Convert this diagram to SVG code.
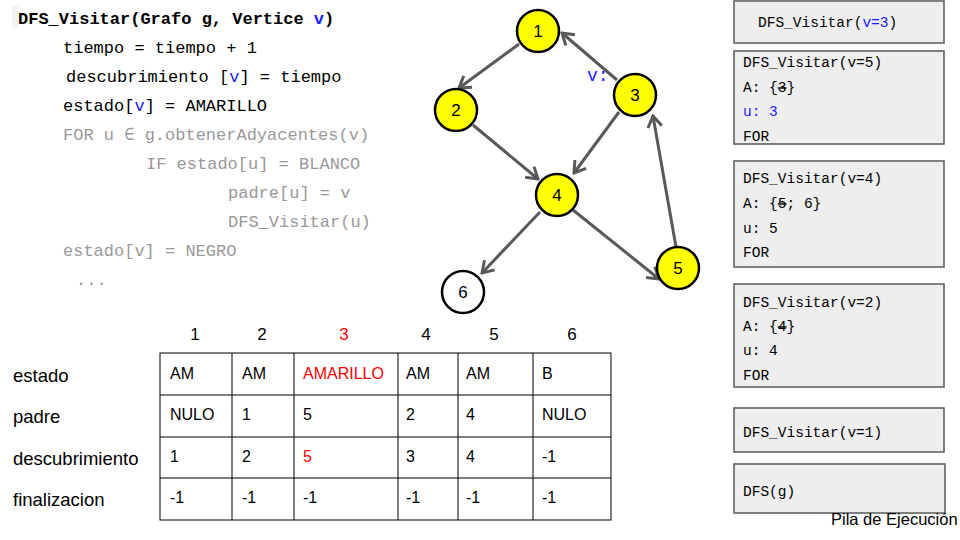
<svg xmlns="http://www.w3.org/2000/svg" width="960" height="540" viewBox="0 0 960 540">
<defs>
<style>
.code{font-family:"Liberation Mono","DejaVu Sans Mono",monospace;font-size:17px;fill:#000}
.bold{font-weight:bold}
.node circle{fill:#ffff00;stroke:#000;stroke-width:2.5}
.node.white circle{fill:#fff}
.node text{font-family:"Liberation Sans",Arial,sans-serif;font-size:17px;text-anchor:middle;fill:#000}
.edge{stroke:#595959;stroke-width:3;fill:none;marker-end:url(#arr)}
.stack rect{fill:#eeeeee;stroke:#595959;stroke-width:1.5}
.stk{font-family:"Liberation Mono","DejaVu Sans Mono",monospace;font-size:14.5px;fill:#000}
.tbl{font-family:"Liberation Sans",Arial,sans-serif;font-size:16px;fill:#000}
.hdr{font-family:"Liberation Sans",Arial,sans-serif;font-size:17px;fill:#000;text-anchor:middle}
.lbl{font-family:"Liberation Sans",Arial,sans-serif;font-size:18.5px;fill:#000}
.ttl{font-family:"Liberation Sans",Arial,sans-serif;font-size:16.5px;fill:#000}
.grid{stroke:#000;stroke-width:1;fill:none}
.strike{text-decoration:line-through}
text.gray,tspan.gray{fill:#999999}
text.blue,tspan.blue{fill:#1a1aff}
text.red,tspan.red{fill:#ff0000}
</style>
<marker id="arr" markerUnits="userSpaceOnUse" viewBox="-14 -9 16 18" markerWidth="16" markerHeight="18" refX="0" refY="0" orient="auto">
<path d="M-11,-7 L0,0 L-11,7" fill="none" stroke="#595959" stroke-width="3"/>
</marker>
</defs>
<rect width="960" height="540" fill="#ffffff"/>

<g id="code">
<rect x="12" y="6" width="6" height="22" fill="#f3f3f3"/>
<text class="code bold" x="18" y="24">DFS_Visitar(Grafo g, Vertice <tspan class="blue">v</tspan>)</text>
<text class="code" x="63" y="53">tiempo = tiempo + 1</text>
<text class="code" x="66" y="82">descubrimiento [<tspan class="blue">v</tspan>] = tiempo</text>
<text class="code" x="63" y="111">estado[<tspan class="blue">v</tspan>] = AMARILLO</text>
<text class="code gray" x="63" y="140">FOR u ∈ g.obtenerAdyacentes(v)</text>
<text class="code gray" x="146" y="169">IF estado[u] = BLANCO</text>
<text class="code gray" x="228" y="198">padre[u] = v</text>
<text class="code gray" x="228" y="227">DFS_Visitar(u)</text>
<text class="code gray" x="63" y="256">estado[v] = NEGRO</text>
<text class="code gray" x="76" y="285">...</text>
</g>

<g id="connectors">
<line class="edge" x1="519" y1="44" x2="459" y2="88"/>
<line class="edge" x1="617" y1="80" x2="562" y2="33"/>
<line class="edge" x1="473" y1="125" x2="538" y2="179"/>
<line class="edge" x1="619" y1="112" x2="574" y2="173"/>
<line class="edge" x1="540" y1="212" x2="482" y2="273"/>
<line class="edge" x1="573" y1="210" x2="659" y2="279"/>
<line class="edge" x1="676" y1="247" x2="653" y2="116"/>
</g>

<g id="node1" class="node"><circle cx="538" cy="31" r="21"/><text x="538" y="37">1</text></g>
<g id="node2" class="node"><circle cx="456" cy="110" r="21"/><text x="456" y="116">2</text></g>
<g id="node3" class="node"><circle cx="635" cy="95" r="21"/><text x="635" y="101">3</text></g>
<g id="node4" class="node"><circle cx="557" cy="195" r="21"/><text x="557" y="201">4</text></g>
<g id="node5" class="node"><circle cx="678" cy="268" r="21"/><text x="678" y="274">5</text></g>
<g id="node6" class="node white"><circle cx="463" cy="292" r="21"/><text x="463" y="298">6</text></g>
<text id="vlabel" x="587" y="81" font-family="Liberation Mono, DejaVu Sans Mono, monospace" font-size="18" fill="#1a1aff">v:</text>

<g id="stack" class="stack">
<g id="frame-v3"><rect x="734" y="1" width="210" height="42"/>
<text class="stk" x="758" y="27">DFS_Visitar(<tspan class="blue">v=3</tspan>)</text></g>
<g id="frame-v5"><rect x="734" y="51" width="210" height="93"/>
<text class="stk" x="743" y="67">DFS_Visitar(v=5)</text>
<text class="stk" x="743" y="92">A: {<tspan class="strike">3</tspan>}</text>
<text class="stk blue" x="743" y="116">u: 3</text>
<text class="stk" x="743" y="141">FOR</text></g>
<g id="frame-v4"><rect x="734" y="161" width="210" height="106"/>
<text class="stk" x="743" y="183">DFS_Visitar(v=4)</text>
<text class="stk" x="743" y="208">A: {<tspan class="strike">5</tspan>; 6}</text>
<text class="stk" x="743" y="233">u: 5</text>
<text class="stk" x="743" y="257">FOR</text></g>
<g id="frame-v2"><rect x="734" y="284" width="210" height="103"/>
<text class="stk" x="743" y="307">DFS_Visitar(v=2)</text>
<text class="stk" x="743" y="331">A: {<tspan class="strike">4</tspan>}</text>
<text class="stk" x="743" y="355">u: 4</text>
<text class="stk" x="743" y="380">FOR</text></g>
<g id="frame-v1"><rect x="734" y="408" width="210" height="44"/>
<text class="stk" x="743" y="437">DFS_Visitar(v=1)</text></g>
<g id="frame-dfs"><rect x="734" y="464" width="211" height="49"/>
<text class="stk" x="743" y="496">DFS(g)</text></g>
</g>
<text id="stack-title" class="ttl" x="831" y="525">Pila de Ejecución</text>

<g id="table">
<text class="hdr" x="195" y="340">1</text>
<text class="hdr" x="262" y="340">2</text>
<text class="hdr red" x="344" y="340">3</text>
<text class="hdr" x="426" y="340">4</text>
<text class="hdr" x="494" y="340">5</text>
<text class="hdr" x="572" y="340">6</text>
<text class="lbl" x="13" y="382">estado</text>
<text class="lbl" x="13" y="423">padre</text>
<text class="lbl" x="13" y="465">descubrimiento</text>
<text class="lbl" x="13" y="506">finalizacion</text>
<rect class="grid" x="160" y="353" width="451" height="167"/>
<path class="grid" d="M160,395H611M160,437H611M160,478H611M232,353V520M294,353V520M398,353V520M458,353V520M533,353V520"/>
<text class="tbl" x="170" y="379">AM</text>
<text class="tbl" x="242" y="379">AM</text>
<text class="tbl red" x="303" y="379">AMARILLO</text>
<text class="tbl" x="406" y="379">AM</text>
<text class="tbl" x="466" y="379">AM</text>
<text class="tbl" x="542" y="379">B</text>
<text class="tbl" x="170" y="420">NULO</text>
<text class="tbl" x="242" y="420">1</text>
<text class="tbl" x="303" y="420">5</text>
<text class="tbl" x="406" y="420">2</text>
<text class="tbl" x="466" y="420">4</text>
<text class="tbl" x="542" y="420">NULO</text>
<text class="tbl" x="170" y="462">1</text>
<text class="tbl" x="242" y="462">2</text>
<text class="tbl red" x="303" y="462">5</text>
<text class="tbl" x="406" y="462">3</text>
<text class="tbl" x="466" y="462">4</text>
<text class="tbl" x="542" y="462">-1</text>
<text class="tbl" x="170" y="503">-1</text>
<text class="tbl" x="242" y="503">-1</text>
<text class="tbl" x="303" y="503">-1</text>
<text class="tbl" x="406" y="503">-1</text>
<text class="tbl" x="466" y="503">-1</text>
<text class="tbl" x="542" y="503">-1</text>
</g>
</svg>
